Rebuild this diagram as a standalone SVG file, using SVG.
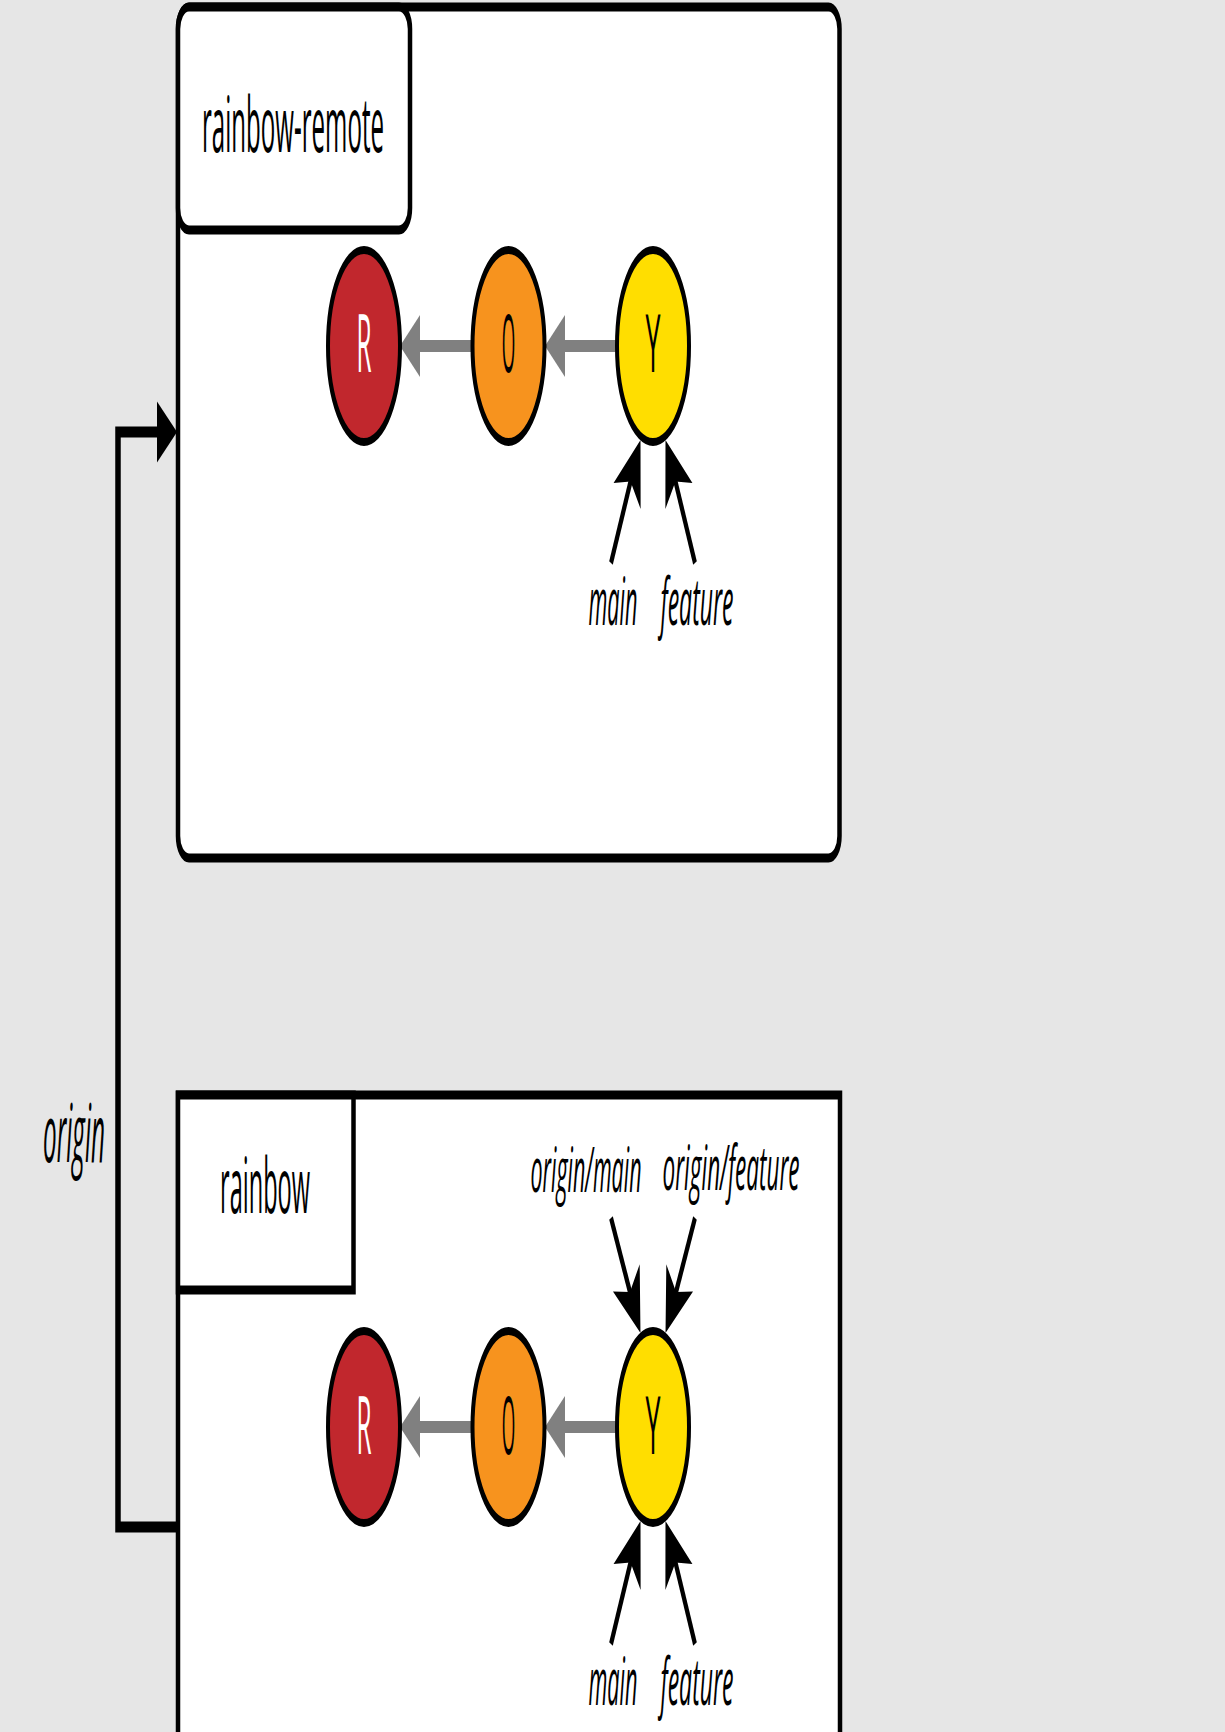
<svg xmlns="http://www.w3.org/2000/svg" width="1225" height="1732" viewBox="0 0 1225 1732">
<style>
.box{fill:#ffffff;stroke:#000000;stroke-width:9}
.node{stroke:#000000;stroke-width:8}
.t{font-family:"Open Sans","Noto Sans","DejaVu Sans",sans-serif;text-anchor:middle}
.title{font-size:77px;fill:#000000}
.lab{font-size:80px}
.ref{font-size:66px;font-style:italic;fill:#000000}
.gray{fill:#808080}
.ptr{fill:none;stroke:#000000;stroke-width:8}
</style>
<defs>
<marker id="ah" markerUnits="userSpaceOnUse" viewBox="-30 -40 80 80" markerWidth="80" markerHeight="80" refX="0" refY="0" orient="auto" overflow="visible">
<path d="M40,0 L-22,-30 L-6,0 L-22,30 Z" fill="#000000"/>
</marker>
</defs>
<rect x="0" y="0" width="1225" height="1732" fill="#e6e6e6"/>
<g transform="scale(0.5,1)">
<g id="remote-container">
<rect class="box" x="356" y="7" width="1323" height="851" rx="22" ry="22"/>
<rect class="box" x="356" y="7" width="464" height="223" rx="22" ry="22"/>
<text class="t title" x="586" y="152" textLength="364" lengthAdjust="spacingAndGlyphs">rainbow-remote</text>
</g>
<g id="local-container">
<rect class="box" x="356" y="1095" width="1324" height="800"/>
<rect class="box" x="356" y="1095" width="351" height="195"/>
<text class="t title" x="530" y="1213" textLength="180" lengthAdjust="spacingAndGlyphs">rainbow</text>
</g>
<g id="connectors">
<path d="M356,1527 H236 V432 H318" fill="none" stroke="#000000" stroke-width="11"/>
<polygon points="354,432 314,401.5 314,462.5" fill="#000000"/>
<text class="t ref" x="148" y="1162" style="font-size:80px" textLength="124" lengthAdjust="spacingAndGlyphs">origin</text>
<rect class="gray" x="1128" y="340" width="110" height="12"/>
<polygon class="gray" points="1090,346 1130,315 1130,377"/>
<rect class="gray" x="838" y="340" width="110" height="12"/>
<polygon class="gray" points="800,346 840,315 840,377"/>
<rect class="gray" x="1128" y="1421" width="110" height="12"/>
<polygon class="gray" points="1090,1427 1130,1396 1130,1458"/>
<rect class="gray" x="838" y="1421" width="110" height="12"/>
<polygon class="gray" points="800,1427 840,1396 840,1458"/>
<path class="ptr" d="M1222,563 L1263.7,476.1" marker-end="url(#ah)"/>
<path class="ptr" d="M1390,563 L1348.3,476.1" marker-end="url(#ah)"/>
<path class="ptr" d="M1222,1644 L1263.7,1557.1" marker-end="url(#ah)"/>
<path class="ptr" d="M1390,1644 L1348.3,1557.1" marker-end="url(#ah)"/>
<path class="ptr" d="M1222,1218 L1262.7,1297.4" marker-end="url(#ah)"/>
<path class="ptr" d="M1390,1218 L1349.3,1297.4" marker-end="url(#ah)"/>
</g>
<g id="remote-R">
<ellipse class="node" cx="728" cy="346" rx="72" ry="96" fill="#c1272d"/>
<text class="t lab" x="728" y="372" fill="#ffffff" textLength="30" lengthAdjust="spacingAndGlyphs">R</text>
</g>
<g id="remote-O">
<ellipse class="node" cx="1017" cy="346" rx="72" ry="96" fill="#f7931e"/>
<text class="t lab" x="1017" y="372" fill="#000000" textLength="27" lengthAdjust="spacingAndGlyphs">O</text>
</g>
<g id="remote-Y">
<ellipse class="node" cx="1306" cy="346" rx="72" ry="96" fill="#ffde00"/>
<text class="t lab" x="1306" y="372" fill="#000000" textLength="30" lengthAdjust="spacingAndGlyphs">Y</text>
</g>
<g id="remote-main"><text class="t ref" x="1226" y="625" textLength="98" lengthAdjust="spacingAndGlyphs">main</text></g>
<g id="remote-feature"><text class="t ref" x="1394" y="625" textLength="146" lengthAdjust="spacingAndGlyphs">feature</text></g>
<g id="local-R">
<ellipse class="node" cx="728" cy="1427" rx="72" ry="96" fill="#c1272d"/>
<text class="t lab" x="728" y="1454" fill="#ffffff" textLength="30" lengthAdjust="spacingAndGlyphs">R</text>
</g>
<g id="local-O">
<ellipse class="node" cx="1017" cy="1427" rx="72" ry="96" fill="#f7931e"/>
<text class="t lab" x="1017" y="1454" fill="#000000" textLength="27" lengthAdjust="spacingAndGlyphs">O</text>
</g>
<g id="local-Y">
<ellipse class="node" cx="1306" cy="1427" rx="72" ry="96" fill="#ffde00"/>
<text class="t lab" x="1306" y="1454" fill="#000000" textLength="30" lengthAdjust="spacingAndGlyphs">Y</text>
</g>
<g id="local-origin-main"><text class="t ref" x="1172" y="1192" style="font-size:62px" textLength="222" lengthAdjust="spacingAndGlyphs">origin/main</text></g>
<g id="local-origin-feature"><text class="t ref" x="1462" y="1190" style="font-size:62px" textLength="274" lengthAdjust="spacingAndGlyphs">origin/feature</text></g>
<g id="local-main"><text class="t ref" x="1226" y="1705" textLength="98" lengthAdjust="spacingAndGlyphs">main</text></g>
<g id="local-feature"><text class="t ref" x="1394" y="1705" textLength="146" lengthAdjust="spacingAndGlyphs">feature</text></g>
</g>
</svg>
